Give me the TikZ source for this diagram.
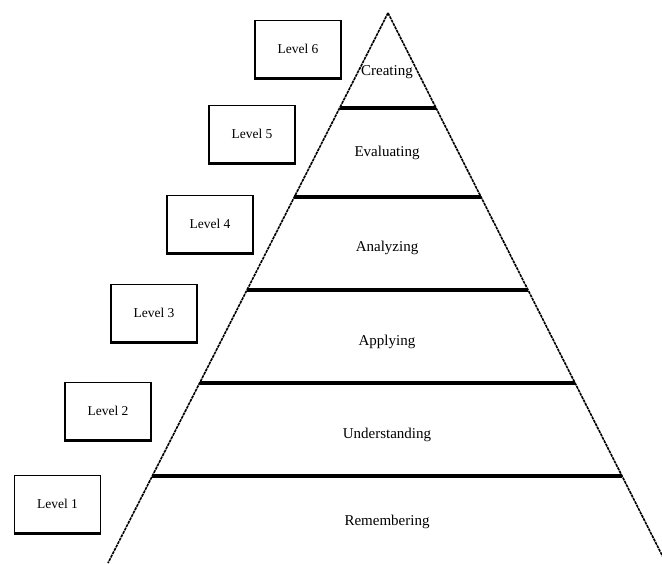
\documentclass[tikz,border=0pt]{standalone}
\usepackage{fontspec}
\setmainfont{Liberation Serif}
\usetikzlibrary{calc}
\begin{document}
\begin{tikzpicture}[x=1pt,y=-1pt]
  \tikzset{levelbox/.style={draw, line width=1.6pt, minimum width=86pt, minimum height=57pt, inner sep=0pt, font=\fontsize{13.5}{15}\selectfont},
           stage/.style={font=\fontsize{15}{18}\selectfont},
           side/.style={line width=1.6pt, dash pattern=on 3pt off 0.8pt},
           tier/.style={line width=3.2pt}}
  \useasboundingbox (0,0) rectangle (662,563);
  \coordinate (top) at (388,13);
  \coordinate (bl) at (108,563);
  \coordinate (br) at (666,563);

  \path[side] (top) edge (bl);
  \path[side] (top) edge (br);

  % tier lines
  \foreach \t/\n in {0.1727/1, 0.3345/2, 0.5036/3, 0.6727/4, 0.8418/5} {
    \coordinate (l\n) at ($(top)!\t!(bl)$);
    \coordinate (r\n) at ($(top)!\t!(br)$);
    \path[tier] (l\n) edge (r\n);
  }

  \node[stage] at (387,72) (creating) {Creating};
  \node[stage] at (387,153) (evaluating) {Evaluating};
  \node[stage] at (387,248) (analyzing) {Analyzing};
  \node[stage] at (387,342) (applying) {Applying};
  \node[stage] at (387,435) (understanding) {Understanding};
  \node[stage] at (387,522) (remembering) {Remembering};

  \node[levelbox] at (298,49) (lv6) {Level 6};
  \node[levelbox] at (252,134) (lv5) {Level 5};
  \node[levelbox] at (210,224) (lv4) {Level 4};
  \node[levelbox] at (154,313) (lv3) {Level 3};
  \node[levelbox] at (108,411) (lv2) {Level 2};
  \node[levelbox] at (57.5,504) (lv1) {Level 1};

  % heavier lower edges
  \foreach \b in {lv1,lv2,lv3,lv4,lv5,lv6}
    \path[line width=3.5pt] (\b.south west) edge (\b.south east);
\end{tikzpicture}
\end{document}
